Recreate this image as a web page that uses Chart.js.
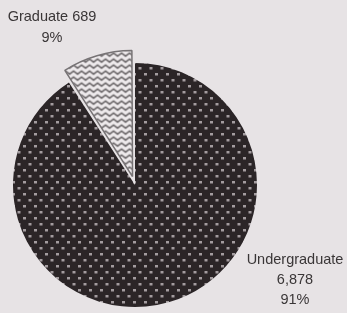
<!DOCTYPE html>
<html>
<head>
<meta charset="utf-8">
<script src="https://cdn.jsdelivr.net/npm/chart.js@4/dist/chart.umd.min.js"></script>
<style>
  html, body { margin:0; padding:0; background:#e7e3e5; }
  #wrap { width:347px; height:313px; position:relative; }
</style>
</head>
<body>
<div id="wrap"><canvas id="c" width="347" height="313"></canvas></div>
<script>
const categories = ['Undergraduate', 'Graduate'];
const enrollment = [6878, 689];
const explode = [0, 35];

function dotPattern() {
  const t = document.createElement('canvas');
  t.width = 11; t.height = 12;
  const g = t.getContext('2d');
  g.fillStyle = '#2b2527';
  g.fillRect(0, 0, 11, 12);
  g.fillStyle = '#a39c9f';
  g.fillRect(1, 1, 3, 2.5);
  g.fillRect(6.5, 7, 3, 2.5);
  return g.createPattern(t, 'repeat');
}
function wavePattern() {
  const t = document.createElement('canvas');
  t.width = 8; t.height = 6;
  const g = t.getContext('2d');
  g.fillStyle = '#eeeaec';
  g.fillRect(0, 0, 8, 6);
  g.strokeStyle = '#656163';
  g.lineWidth = 1.5;
  g.beginPath();
  g.moveTo(-2, 1.5); g.lineTo(0, 4.5); g.lineTo(4, 1.5); g.lineTo(8, 4.5); g.lineTo(10, 1.5);
  g.stroke();
  return g.createPattern(t, 'repeat');
}

const total = enrollment.reduce((a, b) => a + b, 0);
const fmt = v => v.toLocaleString('en-US');
const pct = v => Math.round(v / total * 100) + '%';

const labelPlugin = {
  id: 'sliceLabels',
  afterDraw(chart) {
    const ctx = chart.ctx;
    ctx.save();
    ctx.fillStyle = '#3a3637';
    ctx.font = '14.5px "Liberation Sans", Arial, sans-serif';
    ctx.textAlign = 'center';
    ctx.textBaseline = 'middle';
    // Graduate
    ctx.fillText(categories[1] + ' ' + fmt(enrollment[1]), 52, 17);
    ctx.fillText(pct(enrollment[1]), 52, 38);
    // Undergraduate
    ctx.fillText(categories[0], 295, 260);
    ctx.fillText(fmt(enrollment[0]), 295, 280);
    ctx.fillText(pct(enrollment[0]), 295, 300);
    ctx.restore();
  }
};

new Chart(document.getElementById('c'), {
  type: 'pie',
  data: {
    labels: categories,
    datasets: [{
      data: enrollment,
      backgroundColor: [dotPattern(), wavePattern()],
      borderColor: ['#2b2527', '#777375'],
      borderWidth: [0, 1.5],
      offset: explode
    }]
  },
  options: {
    responsive: false,
    animation: false,
    radius: 122,
    layout: { padding: { left: 0, right: 77, top: 57, bottom: 0 } },
    plugins: { legend: { display: false }, tooltip: { enabled: false } },
    events: []
  },
  plugins: [labelPlugin]
});
</script>
</body>
</html>
